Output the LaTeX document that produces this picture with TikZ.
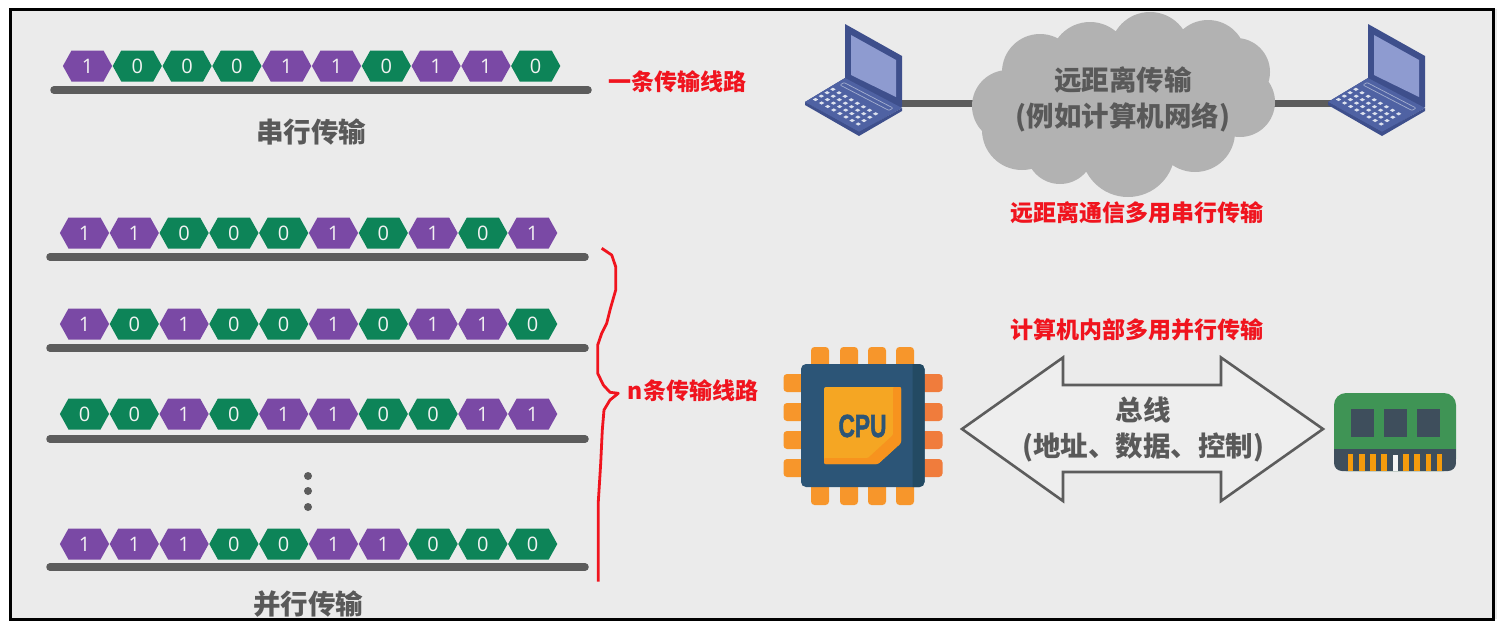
\documentclass[tikz,border=0pt]{standalone}
\usepackage{fontspec}
\setmainfont{Noto Sans CJK SC}
\newfontfamily\digitfont{Open Sans}
\newfontfamily\cpufont{Liberation Sans}[BoldFeatures={FakeBold=2}]
\usetikzlibrary{calc}
\definecolor{bgc}{HTML}{EBEBEB}
\definecolor{purp}{HTML}{7A49A5}
\definecolor{grn}{HTML}{0D8458}
\definecolor{rail}{HTML}{5C5C5C}
\definecolor{labelgray}{HTML}{595959}
\definecolor{redtxt}{HTML}{F0141E}
\definecolor{cloudc}{HTML}{B2B2B2}
\definecolor{lapdark}{HTML}{3E4F8C}
\definecolor{lapmid}{HTML}{4F62A3}
\definecolor{lapscreen}{HTML}{8E9BD0}
\definecolor{keyc}{HTML}{DDE2EE}
\definecolor{cpub}{HTML}{2C5577}
\definecolor{cpud}{HTML}{234A63}
\definecolor{pin}{HTML}{F7962B}
\definecolor{pinr}{HTML}{F07C3C}
\definecolor{die}{HTML}{F5A623}
\definecolor{died}{HTML}{F7931E}
\definecolor{ramg}{HTML}{3F9455}
\definecolor{ramd}{HTML}{3E4E5C}
\definecolor{ramo}{HTML}{F59B0C}
\tikzset{
  x=1pt,y=-1pt,
  bitlabel/.style={font=\digitfont\fontsize{20}{20}\selectfont,text=white!90!gray,inner sep=0pt},
  railline/.style={rail,line width=7.5pt,line cap=round},
  wire/.style={rail,line width=7pt},
  caption/.style={font=\bfseries\fontsize{27.5}{30}\selectfont,text=labelgray,inner sep=0pt,align=center},
  redlabel/.style={font=\bfseries\fontsize{23}{26}\selectfont,text=redtxt,inner sep=0pt},
  pinshape/.style={fill=pin,rounded corners=3.5pt},
  laptop/.pic={
    \fill[lapdark] (0,-1)--(57,31)--(57,82)--(14,108)--(-40,77)--(0,53)--cycle;
    \fill[lapmid] (-40,77)--(0,53)--(57,83)--(14,107)--cycle;
    \fill[lapdark] (-40,77)--(14,107)--(57,83)--(57,86)--(14,111)--(-40,80)--cycle;
    \fill[lapscreen] (6,10)--(51,35)--(51,72)--(6,50)--cycle;
    \draw[keyc!60!lapmid,line width=.7pt,rounded corners=1pt] (-5,60)--(-1,57.5)--(48,83)--(44,85.5)--cycle;
    \foreach \i in {0,...,7}{\foreach \j in {0,...,3}{
      \pgfmathsetmacro{\kx}{-29.5+\i*6.1+\j*5.8}
      \pgfmathsetmacro{\ky}{74.5+\i*3.5-\j*3.4}
      \fill[keyc] (\kx-2.7,\ky)--(\kx,\ky-1.6)--(\kx+2.7,\ky)--(\kx,\ky+1.6)--cycle;
    }}
  }
}
\newcommand{\hexrow}[4]{% name, x0, y, bits
  \foreach \b [count=\i from 0] in {#4}{
    \pgfmathsetmacro{\cx}{#2+\i*49.8}
    \ifnum\b=1\def\hc{purp}\else\def\hc{grn}\fi
    \fill[\hc] (\cx-24.6,#3)--(\cx-16,#3-15.5)--(\cx+16,#3-15.5)--(\cx+24.6,#3)--(\cx+16,#3+15.5)--(\cx-16,#3+15.5)--cycle;
    \node[bitlabel] (#1b\i) at (\cx,#3) {\b};
  }
}
\begin{document}
\begin{tikzpicture}
\useasboundingbox (0,0) rectangle (1507,632);
\fill[white] (0,0) rectangle (1507,632);
\fill[bgc] (11,9) rectangle (1497,619);

% rails
\foreach \n/\xa/\xb/\yy in {a/54/588/90,b/50/585/257,c/50/585/348,d/50/585/439,e/50/585/567}{
  \coordinate (\n L) at (\xa,\yy);
  \coordinate (\n R) at (\xb,\yy);
  \draw[railline] (\n L) -- (\n R);
}
\hexrow{ra}{87.5}{66}{1,0,0,0,1,1,0,1,1,0}
\hexrow{rb}{84.5}{233}{1,1,0,0,0,1,0,1,0,1}
\hexrow{rc}{84.5}{324}{1,0,1,0,0,1,0,1,1,0}
\hexrow{rd}{84.5}{414}{0,0,1,0,1,1,0,0,1,1}
\hexrow{re}{84.5}{544}{1,1,1,0,0,1,1,0,0,0}
\foreach \yy in {476,491,507} \fill[rail] (308,\yy) circle (4);

\node[caption] (serial) at (311,132) {串行传输};
\node[caption] (parallel) at (308,604) {并行传输};

\node[redlabel] (oneline) at (677,82) {一条传输线路};
\node[redlabel] (nline) at (693,391) {n条传输线路};
\node[redlabel] (far) at (1136.5,213) {远距离通信多用串行传输};
\node[redlabel] (inner) at (1136.5,330) {计算机内部多用并行传输};

% brace
\draw[redtxt,line width=2.8pt,line join=round]
 (601.7,248.3)--(611.7,255)--(615.7,266.7)--(615.7,290)--(610,310)--(606.7,323.3)--(601.7,333.3)--(597.7,345)--(597.7,373.3)--(603.3,385)--(610,392.3)--(618.3,393.3)--(610,400)--(604,410)--(602.3,430)--(600.7,463.3)--(598.3,501.7)--(598.3,581.7);

% wires
\coordinate (lapL) at (902,103);
\coordinate (cloudW) at (980,103);
\coordinate (cloudE) at (1270,103);
\coordinate (lapR) at (1340,103);
\draw[wire] (lapL) -- (cloudW);
\draw[wire] (cloudE) -- (lapR);

% cloud
\fill[cloudc]
 (1150,52) circle (40) (1090,62) circle (40) (1208,58) circle (38)
 (1040,72) circle (38) (1236,72) circle (34) (1008,106) circle (36)
 (1240,102) circle (35) (1022,130) circle (40) (1195,132) circle (40)
 (1060,150) circle (34) (1128,150) circle (47) (1100,100) circle (60) (1170,100) circle (60);
\node[caption,font=\bfseries\fontsize{27.5}{36}\selectfont] (cloudtext) at (1123,99) {远距离传输\\(例如计算机网络)};

\pic at (845,25) {laptop};
\pic at (1368,25) {laptop};

% bus arrow
\draw[rail,fill=bgc!85!white,line width=2.6pt,line join=miter]
 (962,429)--(1063,357.5)--(1063,385)--(1221,385)--(1221,357.5)--(1323,429)--(1221,501)--(1221,472)--(1063,472)--(1063,501)--cycle;
\node[caption,font=\bfseries\fontsize{27.5}{36}\selectfont] (bustext) at (1143,429.5) {总线\\(地址、数据、控制)};

% CPU
\foreach \xx in {811,840,868,896}{
  \fill[pinshape] (\xx,347) rectangle ++(18,25);
  \fill[pinshape] (\xx,480) rectangle ++(18,25);
}
\foreach \yy in {374,403,431,459}{
  \fill[pinshape] (783.5,\yy) rectangle ++(25,18);
  \fill[pinr,rounded corners=3.5pt] (917,\yy) rectangle ++(25.5,18);
}
\fill[cpub,rounded corners=5pt] (801,364) rectangle (924.5,487);
\fill[cpud] (912.5,364) [rounded corners=5pt] -- (924.5,364) -- (924.5,487) [sharp corners] -- (912.5,487) -- cycle;
\fill[die,rounded corners=2pt] (824,387) -- (901,387) -- (901,443) -- (878,464) -- (824,464) -- cycle;
\fill[died,rounded corners=1pt] (893,387)--(901,387)--(901,443)--(878,464)--(824,464)--(824,458)--(868,458)--(893,435)--cycle;
\node[inner sep=0pt,text=cpub] (cpu) at (862.5,426) {\scalebox{.71}[1]{\cpufont\bfseries\fontsize{32}{32}\selectfont CPU}};

% RAM
\fill[ramg,rounded corners=12pt] (1334,393) rectangle (1456,471);
\fill[ramd,rounded corners=8pt] (1334,455) rectangle (1456,471);
\fill[ramd] (1334,449) rectangle (1456,462);
\foreach \xx in {1351,1384,1417} \fill[ramd] (\xx,409) rectangle ++(22.5,28);
\foreach \xx in {1347.5,1359,1370,1381,1403,1414,1425.5,1436.5} \fill[ramo] (\xx,454) rectangle ++(5.6,17);
\fill[bgc!50!white] (1392.5,455) rectangle (1397.5,471);

% frame
\draw[black,line width=3pt] (10.5,9.5) rectangle (1493.5,619.5);
\end{tikzpicture}
\end{document}
